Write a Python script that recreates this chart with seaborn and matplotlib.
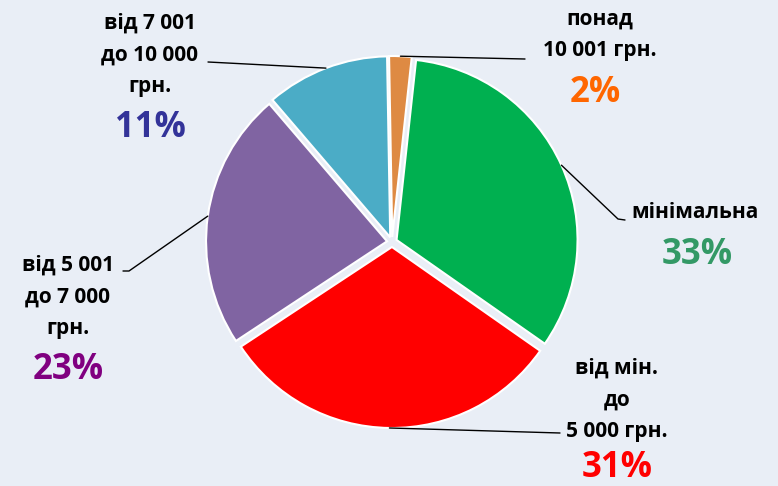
import numpy as np
import matplotlib.pyplot as plt
import seaborn as sns

labels = ["понад\n10 001 грн.", "мінімальна", "від мін.\nдо\n5 000 грн.",
          "від 5 001\nдо 7 000\nгрн.", "від 7 001\nдо 10 000\nгрн."]
shares = [2, 33, 31, 23, 11]
slice_colors = ["#DE8A43", "#00B050", "#FF0000", "#8064A2", "#4BACC6"]
pct_colors = ["#FF6600", "#339966", "#FF0000", "#800080", "#333399"]

sns.set_theme(style="white")
plt.rcParams["font.family"] = ["Open Sans", "DejaVu Sans"]

W, H = 778, 486
fig = plt.figure(figsize=(7.78, 4.86), dpi=100)
fig.patch.set_facecolor("#E9EEF6")
ax = fig.add_axes([0, 0, 1, 1])

cx, cy, r = 392, H - 242, 181
wedges, _ = ax.pie(shares, colors=slice_colors, startangle=91, counterclock=False,
                   explode=[5] * len(shares), radius=r, center=(cx, cy),
                   wedgeprops=dict(edgecolor="white", linewidth=1.5))
ax.set_xlim(0, W)
ax.set_ylim(0, H)
ax.set_aspect("equal")
ax.axis("off")

# label layout in pixels (y down): text centre, percent centre, leader path after wedge
text_pos = [(600, 35), (695, 213), (617, 400), (68, 297), (150, 55)]
pct_pos = [(595, 93), (697, 255), (617, 468), (68, 370), (150, 128)]
leader = [[(525, 59)], [(618, 219), (625, 220)], [(560, 433)],
          [(129, 271), (123, 271)], [(208, 62)]]

for w, lab, share, pc, tp, pp, path in zip(wedges, labels, shares, pct_colors,
                                           text_pos, pct_pos, leader):
    ax.text(tp[0], H - tp[1], lab, ha="center", va="center", fontsize=15,
            fontweight="bold", color="black", linespacing=1.68)
    ax.text(pp[0], H - pp[1], f"{share}%", ha="center", va="center", fontsize=25,
            fontweight="bold", color=pc)
    mid = np.deg2rad((w.theta1 + w.theta2) / 2)
    sx = w.center[0] + w.r * np.cos(mid)
    sy = w.center[1] + w.r * np.sin(mid)
    xs = [sx] + [p[0] for p in path]
    ys = [sy] + [H - p[1] for p in path]
    ax.plot(xs, ys, color="black", lw=1)

fig.savefig("out.png", dpi=100, facecolor=fig.get_facecolor())
